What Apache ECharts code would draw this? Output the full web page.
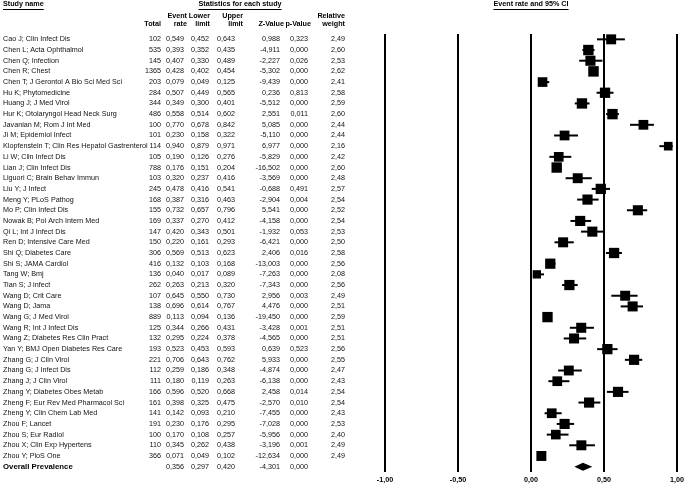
<!DOCTYPE html>
<html><head><meta charset="utf-8">
<script src="https://cdn.jsdelivr.net/npm/echarts@6/dist/echarts.min.js"></script>
<style>html,body{margin:0;padding:0;background:#fff}#c{width:685px;height:486px}</style>
</head><body><div id="c"></div>
<script>
const studies = [
 'Cao J; Clin Infect Dis','Chen L; Acta Ophthalmol','Chen Q; Infection','Chen R; Chest',
 'Chen T; J Gerontol A Bio Sci Med Sci','Hu K; Phytomedicine','Huang J; J Med Virol',
 'Hur K; Otolaryngol Head Neck Surg','Javanian M; Rom J Int Med','Ji M; Epidemiol Infect',
 'Klopfenstein T; Clin Res Hepatol Gastrenterol','Li W; Clin Infect Dis','Lian J; Clin Infect Dis',
 'Liguori C; Brain Behav Immun','Liu Y; J Infect','Meng Y; PLoS Pathog','Mo P; Clin Infect Dis',
 'Nowak B; Pol Arch Intern Med','Qi L; Int J Infect Dis','Ren D; Intensive Care Med',
 'Shi Q; Diabetes Care','Shi S; JAMA Cardiol','Tang W; Bmj','Tian S; J infect',
 'Wang D; Crit Care','Wang D; Jama','Wang G; J Med Virol','Wang R; Int J Infect Dis',
 'Wang Z; Diabetes Res Clin Pract','Yan Y; BMJ Open Diabetes Res Care','Zhang G; J Clin Virol',
 'Zhang G; J Infect Dis','Zhang J; J Clin Virol','Zhang Y; Diabetes Obes Metab',
 'Zheng F; Eur Rev Med Pharmacol Sci','Zheng Y; Clin Chem Lab Med','Zhou F; Lancet',
 'Zhou S; Eur Radiol','Zhou X; Clin Exp Hypertens','Zhou Y; PloS One'
];
const totals = [102,535,145,1365,203,284,344,486,100,101,114,105,788,103,245,168,155,169,147,150,
 306,416,136,262,107,138,889,125,132,193,221,112,111,166,161,141,191,100,110,366];
const eventRate = [0.549,0.393,0.407,0.428,0.079,0.507,0.349,0.558,0.770,0.230,0.940,0.190,0.176,0.320,0.478,0.387,0.732,0.337,0.420,0.220,
 0.569,0.132,0.040,0.263,0.645,0.696,0.113,0.344,0.295,0.523,0.706,0.259,0.180,0.596,0.398,0.142,0.230,0.170,0.345,0.071];
const lowerLimit = [0.452,0.352,0.330,0.402,0.049,0.449,0.300,0.514,0.678,0.158,0.879,0.126,0.151,0.237,0.416,0.316,0.657,0.270,0.343,0.161,
 0.513,0.103,0.017,0.213,0.550,0.614,0.094,0.266,0.224,0.453,0.643,0.186,0.119,0.520,0.325,0.093,0.176,0.108,0.262,0.049];
const upperLimit = [0.643,0.435,0.489,0.454,0.125,0.565,0.401,0.602,0.842,0.322,0.971,0.276,0.204,0.416,0.541,0.463,0.796,0.412,0.501,0.293,
 0.623,0.168,0.089,0.320,0.730,0.767,0.136,0.431,0.378,0.593,0.762,0.348,0.263,0.668,0.475,0.210,0.295,0.257,0.438,0.102];
const zValue = [0.988,-4.911,-2.227,-5.302,-9.439,0.236,-5.512,2.551,5.085,-5.110,6.977,-5.829,-16.502,-3.569,-0.688,-2.904,5.541,-4.158,-1.932,-6.421,
 2.406,-13.003,-7.263,-7.343,2.956,4.476,-19.450,-3.428,-4.565,0.639,5.933,-4.874,-6.138,2.458,-2.570,-7.455,-7.028,-5.956,-3.196,-12.634];
const pValue = [0.323,0.000,0.026,0.000,0.000,0.813,0.000,0.011,0.000,0.000,0.000,0.000,0.000,0.000,0.491,0.004,0.000,0.000,0.053,0.000,
 0.016,0.000,0.000,0.000,0.003,0.000,0.000,0.001,0.000,0.523,0.000,0.000,0.000,0.014,0.010,0.000,0.000,0.000,0.001,0.000];
const relWeight = [2.49,2.60,2.53,2.62,2.41,2.58,2.59,2.60,2.44,2.44,2.16,2.42,2.60,2.48,2.57,2.54,2.52,2.54,2.53,2.50,
 2.58,2.56,2.08,2.56,2.49,2.51,2.59,2.51,2.51,2.56,2.55,2.47,2.43,2.54,2.54,2.43,2.53,2.40,2.49,2.49];
const overallLabel = 'Overall Prevalence';
const overall = {rate:0.356, lower:0.297, upper:0.420, z:-4.301, p:0.000};
const xTicks = {min:-1, max:1, interval:0.5};

const FONT = '"Liberation Sans", Arial, sans-serif';
const FS = 7.2;
const TXT = '#111';
const f3 = v => v.toFixed(3).replace('.', ',');
const f2 = v => v.toFixed(2).replace('.', ',');

const nRows = studies.length + 1;
const rowIdx = Array.from({length:nRows}, (_, i) => String(i));
const GL = 385, GT = 34, GB = 14, GR = 8;

const cols = [
  {data: studies.concat([{value: overallLabel,
     textStyle:{fontWeight:'bold', fontSize:7.8, color:'#000', align:'left', fontFamily:FONT}}]), left: 3, align:'left'},
  {data: totals.map(String).concat(['']), right: 161},
  {data: eventRate.map(f3).concat([f3(overall.rate)]), right: 184},
  {data: lowerLimit.map(f3).concat([f3(overall.lower)]), right: 209},
  {data: upperLimit.map(f3).concat([f3(overall.upper)]), right: 235},
  {data: zValue.map(f3).concat([f3(overall.z)]), right: 280},
  {data: pValue.map(f3).concat([f3(overall.p)]), right: 308},
  {data: relWeight.map(f2).concat(['']), right: 345}
];

const yAxes = [{
  type:'category', data: rowIdx, inverse:true, show:true,
  axisLine:{show:false}, axisTick:{show:false}, axisLabel:{show:false}, splitLine:{show:false}
}];
cols.forEach(c => {
  const x = c.align === 'left' ? c.left : c.right;
  yAxes.push({
    type:'category', data: c.data, inverse:true, position:'left', offset: GL - x,
    axisLine:{show:false}, axisTick:{show:false}, splitLine:{show:false},
    axisLabel:{interval:0, margin:0, align: c.align || 'right', fontSize:FS, fontFamily:FONT, color:TXT}
  });
});

// headers
const ctx = document.createElement('canvas').getContext('2d');
function tw(t, bold){ ctx.font = (bold?'bold ':'') + FS + 'px Liberation Sans'; return ctx.measureText(t).width; }
const graphics = [];
function title(t, x, align){
  const w = tw(t, true);
  const x0 = align === 'center' ? x - w/2 : x;
  graphics.push({type:'text', left: x0, top: 1, style:{text:t, font:'bold '+FS+'px '+FONT, fill:'#000'}});
  graphics.push({type:'line', shape:{x1:x0, y1:9.5, x2:x0+w, y2:9.5}, style:{stroke:'#000', lineWidth:1}});
}
title('Study name', 3, 'left');
title('Statistics for each study', 240, 'center');
title('Event rate and 95% CI', 531, 'center');
const heads = [
  ['', 'Total', 161], ['Event','rate',187], ['Lower','limit',210], ['Upper','limit',243],
  ['', 'Z-Value', 284], ['', 'p-Value', 311], ['Relative','weight',345]
];
heads.forEach(h => {
  [[h[0], 13], [h[1], 21]].forEach(([t, y]) => {
    if (!t) return;
    graphics.push({type:'text', left: h[2] - tw(t, true), top: y,
      style:{text:t, font:'bold '+FS+'px '+FONT, fill:'#000'}});
  });
});

const ciData = studies.map((s, i) => [String(i), lowerLimit[i], upperLimit[i]]);
const sqData = studies.map((s, i) => ({value:[eventRate[i], String(i)], symbolSize: relWeight[i]*4}));

const option = {
  animation:false,
  backgroundColor:'#fff',
  grid:{left:GL, right:GR, top:GT, bottom:GB, containLabel:false, outerBoundsMode:'none'},
  xAxis:{type:'value', min:xTicks.min, max:xTicks.max, interval:xTicks.interval,
    axisLine:{show:false}, axisTick:{show:false},
    splitLine:{show:true, lineStyle:{color:'#000', width:2}},
    axisLabel:{margin:5, fontSize:FS, fontWeight:'bold', fontFamily:FONT, color:'#000',
      formatter: v => v.toFixed(2).replace('.', ',')}},
  yAxis: yAxes,
  graphic: graphics,
  series:[
    {type:'custom', yAxisIndex:0, data: ciData, z:3,
     renderItem:(params, api) => {
       const a = api.coord([api.value(1), api.value(0)]);
       const b = api.coord([api.value(2), api.value(0)]);
       return {type:'line', shape:{x1:a[0], y1:a[1], x2:b[0], y2:b[1]}, style:{stroke:'#000', lineWidth:2}};
     }},
    {type:'scatter', yAxisIndex:0, symbol:'rect', data: sqData, z:4,
     itemStyle:{color:'#000', opacity:1}},
    {type:'custom', yAxisIndex:0, z:4,
     data:[[String(nRows-1), overall.lower, overall.rate, overall.upper]],
     renderItem:(params, api) => {
       const l = api.coord([api.value(1), api.value(0)]);
       const m = api.coord([api.value(2), api.value(0)]);
       const r = api.coord([api.value(3), api.value(0)]);
       const h = 4;
       return {type:'polygon', shape:{points:[[l[0], l[1]], [m[0], m[1]-h], [r[0], r[1]], [m[0], m[1]+h]]},
         style:{fill:'#000'}};
     }}
  ]
};
const chart = echarts.init(document.getElementById('c'), null, {renderer:'canvas'});
chart.setOption(option);
</script></body></html>
